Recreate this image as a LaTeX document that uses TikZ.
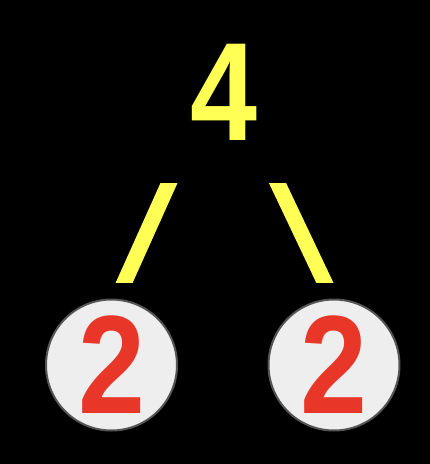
\documentclass[tikz,border=0pt]{standalone}
\usepackage{fontspec}
\setmainfont{Liberation Sans}
\usepackage{graphicx}
\usepackage{tikz}
\definecolor{digityellow}{RGB}{255,255,85}
\definecolor{digitred}{RGB}{232,55,40}
\definecolor{discgray}{RGB}{238,238,238}
\definecolor{rimgray}{RGB}{85,85,85}
\newcommand{\narrowdigit}[1]{\scalebox{0.86}[1]{#1}}
\tikzset{bigdigit/.style = {inner sep = 0pt, font = \fontsize{140}{140}\bfseries\selectfont},
    disc/.style = {circle, draw = rimgray, fill = discgray, minimum size = 131pt, inner sep = 0pt, text = digitred, bigdigit},
    branch/.style = {digityellow, line width = 15.5pt, shorten < = -10pt, shorten > = -10pt}}
\begin{document}
\begin{tikzpicture}[x = 1pt, y = -1pt, line width = 2pt]
\fill[black] (0,0) rectangle (430,464);
\draw (223.5,92) node[bigdigit, text = digityellow](a1){\narrowdigit{4}}
    (111.5,365) node[disc](a2){\narrowdigit{2}}
    (334,365) node[disc](a3){\narrowdigit{2}};
\coordinate (l1) at (169,183);
\coordinate (l2) at (124.5,282);
\coordinate (r1) at (277.5,183);
\coordinate (r2) at (324.5,282);
\begin{scope}
    \clip (0,183) rectangle (430,282);
    \draw [branch] (l1) -- (l2);
    \draw [branch] (r1) -- (r2);
\end{scope}
\end{tikzpicture}
\end{document}
